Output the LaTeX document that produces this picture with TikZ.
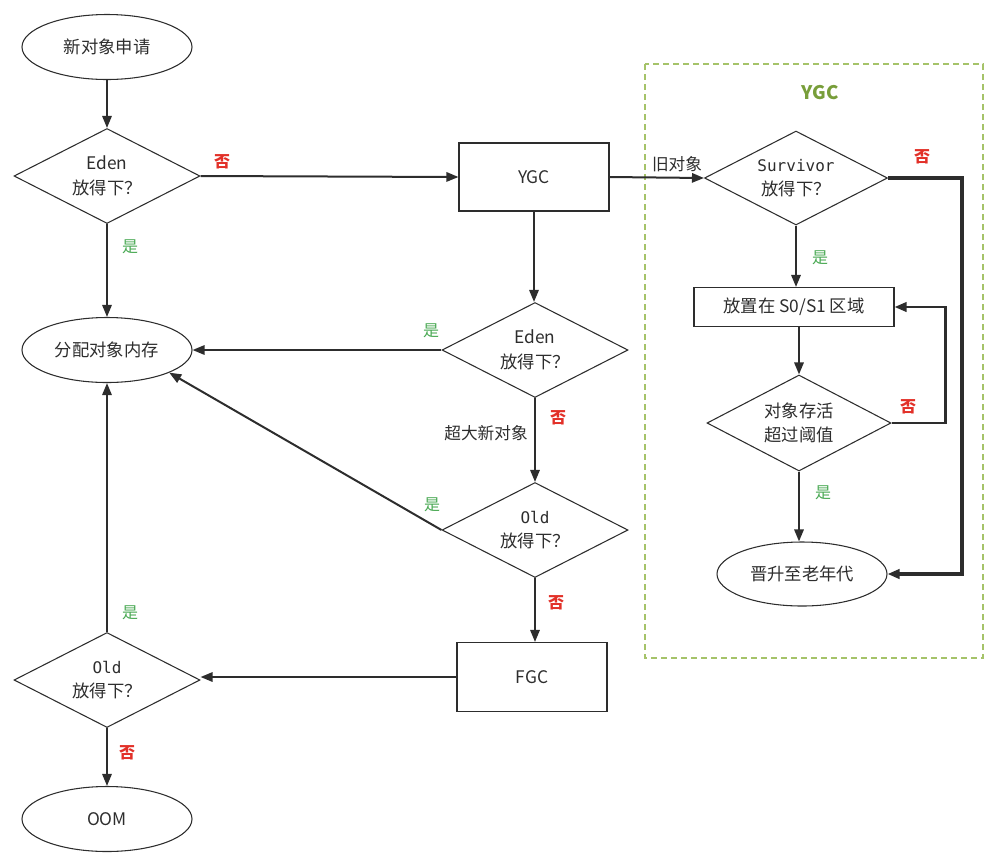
\documentclass[tikz,border=0pt]{standalone}
\usepackage{fontspec}
\setmainfont{Noto Sans CJK SC}
\newfontfamily\monofont{DejaVu Sans Mono}
\usetikzlibrary{shapes.geometric,arrows.meta}

\definecolor{ink}{RGB}{45,45,45}
\definecolor{noclr}{RGB}{226,48,40}
\definecolor{yesclr}{RGB}{72,168,82}
\definecolor{ygcgreen}{RGB}{120,158,58}
\definecolor{dashgreen}{RGB}{165,195,105}

% one unit = one pixel of the 1000 x 858 canvas
\newdimen\px \px=0.75pt

\tikzset{
  every node/.style={text=ink, font=\fontsize{13}{18.5}\selectfont},
  term/.style={ellipse, draw=ink, line width=0.8pt, inner sep=0pt,
               minimum width=170\px, minimum height=65\px},
  decision/.style={diamond, draw=ink, line width=0.8pt, inner sep=0pt, aspect=2,
                   align=center, minimum width=186\px, minimum height=95\px},
  process/.style={rectangle, draw=ink, line width=0.8pt,
                  minimum width=150\px, minimum height=68\px},
  flow/.style={draw=ink, line width=1.5pt, -{Triangle[length=9pt,width=7pt]}},
  heavy/.style={flow, line width=2.4pt},
  yes/.style={text=yesclr, font=\fontsize{12}{14}\selectfont},
  no/.style={text=noclr, font=\bfseries\fontsize{12}{14}\selectfont},
  note/.style={font=\fontsize{12.5}{14}\selectfont},
  group/.style={draw=dashgreen, line width=0.8pt, dash pattern=on 6\px off 4\px}
}

\begin{document}
\begin{tikzpicture}[x=0.75pt, y=-0.75pt]
  \useasboundingbox (0,0) rectangle (1000,858);

  % young-GC group frame
  \draw[group] (645,64) rectangle (983,658);
  \node[text=ygcgreen, font=\bfseries\fontsize{14}{16}\selectfont] (ygctitle) at (820,93) {YGC};

  % left column
  \node[term] (start) at (107,47) {新对象申请};
  \node[decision] (d1) at (107,176) {Eden\\放得下？};
  \node[term] (alloc) at (107,350) {分配对象内存};
  \node[decision] (old2) at (107,680) {{\monofont\fontsize{12}{18.5}\selectfont Old}\\放得下？};
  \node[term] (oom) at (107,819) {OOM};

  % middle column
  \node[process] (ygc) at (534,177) {YGC};
  \node[decision] (d2) at (535,350) {Eden\\放得下？};
  \node[decision] (old1) at (535,530) {{\monofont\fontsize{12}{18.5}\selectfont Old}\\放得下？};
  \node[process, minimum height=69\px] (fgc) at (532,677) {FGC};

  % right column (inside the frame)
  \node[decision, minimum width=183\px, minimum height=94\px] (surv) at (796,178)
       {{\monofont\fontsize{12}{18.5}\selectfont Survivor}\\放得下？};
  \node[rectangle, draw=ink, line width=0.8pt, minimum width=200\px, minimum height=39\px]
       (s01) at (794,307) {放置在 S0/S1 区域};
  \node[decision, minimum width=184\px, minimum height=96\px] (thr) at (799,423)
       {对象存活\\超过阈值};
  \node[term, minimum height=64\px] (promote) at (802,574) {晋升至老年代};

  % connectors
  \draw[flow] (start.south) -- (d1.north);
  \draw[flow] (d1.east) -- (ygc.west);
  \draw[flow] (d1.south) -- (alloc.north);
  \draw[flow] (ygc.east) -- (surv.west);
  \draw[flow] (ygc.south) -- (ygc.south |- d2.north);
  \draw[flow] (d2.west) -- (alloc.east);
  \draw[flow] (d2.south) -- (old1.north);
  \draw[flow] (old1.west) -- (alloc.-20);
  \draw[flow] (old1.south) -- (old1.south |- fgc.north);
  \draw[flow] (fgc.west) -- (fgc.west -| old2.east);
  \draw[flow] (old2.north) -- (alloc.south);
  \draw[flow] (old2.south) -- (oom.north);

  \draw[flow] (surv.south) -- (surv.south |- s01.north);
  \draw[flow] (thr.north |- s01.south) -- (thr.north);
  \draw[flow] (thr.south) -- (thr.south |- promote.north);
  \draw[flow, line width=2pt] (thr.east) -- ++(54,0) |- (s01.east);
  \draw[heavy] (surv.east) -- ++(74,0) |- (promote.east);

  % branch labels
  \node[no]  (n1) at (222,162) {否};
  \node[yes] (y1) at (130,247) {是};
  \node[note] (oldobj) at (677,164) {旧对象};
  \node[no]  (n2) at (922,157) {否};
  \node[yes] (y2) at (820,258) {是};
  \node[no]  (n3) at (908,407) {否};
  \node[yes] (y3) at (823,493) {是};
  \node[yes] (y4) at (431,331) {是};
  \node[no]  (n4) at (558,418) {否};
  \node[note] (huge) at (486,433) {超大新对象};
  \node[yes] (y5) at (432,505) {是};
  \node[no]  (n5) at (556,603) {否};
  \node[yes] (y6) at (130,613) {是};
  \node[no]  (n6) at (127,753) {否};
\end{tikzpicture}
\end{document}
